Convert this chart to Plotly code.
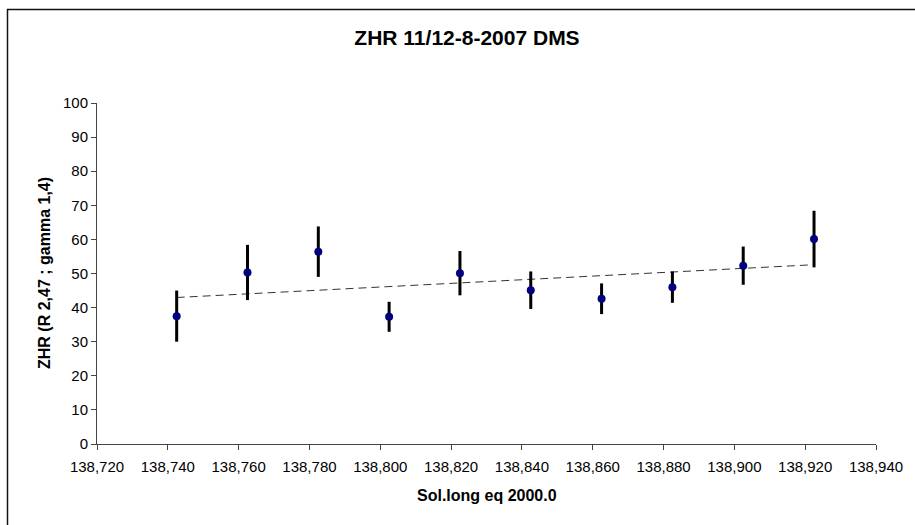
import numpy as np
import plotly.graph_objects as go

sol_long = [138.7425, 138.7625, 138.7825, 138.8025, 138.8225,
            138.8425, 138.8625, 138.8825, 138.9025, 138.9225]
zhr = [37.5, 50.3, 56.4, 37.3, 50.1, 45.1, 42.6, 46.0, 52.3, 60.1]
zhr_err = [7.5, 8.1, 7.4, 4.4, 6.5, 5.5, 4.5, 4.6, 5.6, 8.3]

title = "ZHR 11/12-8-2007 DMS"
x_title = "Sol.long eq 2000.0"
y_title = "ZHR (R 2,47 ; gamma 1,4)"

# linear trendline (least squares)
coef = np.polyfit(np.array(sol_long) - sol_long[0], zhr, 1)
trend_x = [sol_long[0], sol_long[-1]]
trend_y = list(np.polyval(coef, np.array(trend_x) - sol_long[0]))

W, H = 915, 525
L, R, T, B = 97, 39, 103, 81
pw, ph = W - L - R, H - T - B

def px2paper_x(px):
    return (px - L) / pw

def px2paper_y(py):
    return (H - B - py) / ph

fig = go.Figure()
fig.add_trace(go.Scatter(
    x=trend_x, y=trend_y, mode="lines",
    line=dict(color="#333333", width=1, dash="8px,5px"),
    hoverinfo="skip", showlegend=False))
fig.add_trace(go.Scatter(
    x=sol_long, y=zhr, mode="markers",
    marker=dict(color="#000080", size=8),
    error_y=dict(type="data", array=zhr_err, visible=True,
                 color="black", thickness=3, width=0),
    showlegend=False))

font = "Liberation Sans, Arial, sans-serif"
fig.update_layout(
    width=W, height=H,
    margin=dict(l=L, r=R, t=T, b=B),
    paper_bgcolor="white", plot_bgcolor="white",
    separators=", ",
    font=dict(family=font, size=15, color="black"),
    title=dict(text="<b>" + title + "</b>", x=467 / W, xanchor="center",
               y=1 - 37.5 / H, yanchor="middle", yref="container",
               font=dict(size=21, family=font, color="black")),
    xaxis=dict(range=[138.720, 138.940], dtick=0.02, tick0=138.72,
               tickformat=".3f", showgrid=False, zeroline=False,
               showline=True, linecolor="#444", linewidth=1,
               ticks="outside", ticklen=5, tickcolor="#444",
               ticklabelstandoff=4,
               tickfont=dict(size=15, family=font)),
    yaxis=dict(range=[0, 100], dtick=10, showgrid=False, zeroline=False,
               showline=True, linecolor="#444", linewidth=1,
               ticks="outside", ticklen=5, tickcolor="#444",
               tickfont=dict(size=15, family=font)),
    annotations=[
        dict(text="<b>" + x_title + "</b>", xref="paper", yref="paper",
             x=0.5, y=px2paper_y(495), xanchor="center", yanchor="middle",
             showarrow=False, font=dict(size=16, family=font)),
        dict(text="<b>" + y_title + "</b>", xref="paper", yref="paper",
             x=px2paper_x(44), y=px2paper_y(273), xanchor="center", yanchor="middle",
             textangle=-90, showarrow=False, font=dict(size=16, family=font)),
    ],
    shapes=[dict(type="rect", xref="paper", yref="paper",
                 x0=px2paper_x(7.5), x1=px2paper_x(930),
                 y0=px2paper_y(540), y1=px2paper_y(9.5),
                 line=dict(color="#111", width=1.5), layer="below")],
)

fig.write_html("out.html")
